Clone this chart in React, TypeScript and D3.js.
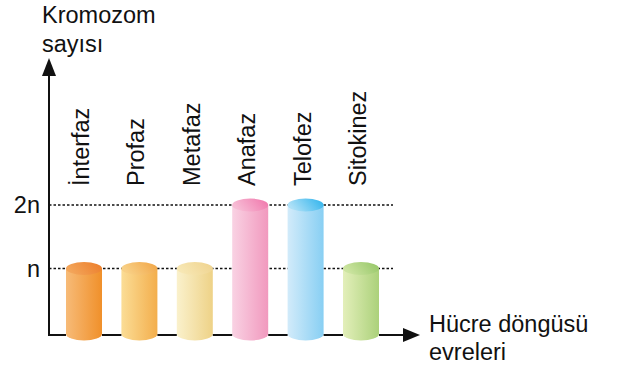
import React from "react";
import * as d3 from "d3";

const categories = ["İnterfaz", "Profaz", "Metafaz", "Anafaz", "Telofez", "Sitokinez"];
const values = [1, 1, 1, 2, 2, 1];
const tickValues = [1, 2];
const tickLabels = ["n", "2n"];
const bodyLeft = ["#f7bb78", "#fbdd96", "#faf1cc", "#f9d2e3", "#d2ebfa", "#e3efba"];
const bodyRight = ["#f0902a", "#f3ae4c", "#eed287", "#f199be", "#88cff3", "#abd17a"];
const topLeft = ["#f3a55a", "#f8d086", "#f7e7b4", "#f7bcd5", "#ade0f7", "#cce4a0"];
const topRight = ["#ec7c28", "#f1a444", "#efd28c", "#f074aa", "#2bb2ec", "#93c565"];

const W = 620;
const H = 367;
const axisX = 49;
const axisY = 335;

export default function App() {
  const x = d3.scalePoint<string>().domain(categories).range([84, 361]);
  const y = d3.scaleLinear().domain([0, 2]).range([332, 205]);
  const bw = 36;
  const ry = 6.5;
  const font = "'Liberation Sans', Arial, Helvetica, sans-serif";
  const fs = 23.5;

  return (
    <svg width={W} height={H} style={{ position: "absolute", left: 0, top: 0, background: "#fff" }}>
      <defs>
        {categories.map((c, i) => (
          <React.Fragment key={c}>
            <linearGradient id={`body${i}`} x1="0" x2="1" y1="0" y2="0">
              <stop offset="0%" stopColor={bodyLeft[i]} />
              <stop offset="100%" stopColor={bodyRight[i]} />
            </linearGradient>
            <linearGradient id={`top${i}`} x1="0" x2="1" y1="0.3" y2="0">
              <stop offset="0%" stopColor={topLeft[i]} />
              <stop offset="100%" stopColor={topRight[i]} />
            </linearGradient>
          </React.Fragment>
        ))}
      </defs>

      {/* dotted reference lines */}
      {tickValues.map((v) => (
        <line key={v} x1={axisX} x2={393} y1={y(v)} y2={y(v)} stroke="#111" strokeWidth={1.4} strokeDasharray="2.5,2" />
      ))}
      {tickValues.map((v, i) => (
        <text key={`t${v}`} x={40} y={y(v) + 8} textAnchor="end" fontFamily={font} fontSize={fs} fill="#111">
          {tickLabels[i]}
        </text>
      ))}

      {/* bars */}
      {categories.map((c, i) => {
        const cx = x(c) as number;
        const top = y(values[i]);
        const bottom = axisY - 1;
        return (
          <g key={c}>
            <path
              d={`M${cx - bw / 2},${top} L${cx - bw / 2},${bottom} A${bw / 2},${ry} 0 0 0 ${cx + bw / 2},${bottom} L${cx + bw / 2},${top} Z`}
              fill={`url(#body${i})`}
            />
            <ellipse cx={cx} cy={top} rx={bw / 2} ry={ry} fill={`url(#top${i})`} />
          </g>
        );
      })}

      {/* axes */}
      <line x1={axisX} x2={axisX} y1={axisY} y2={76} stroke="#111" strokeWidth={2} />
      <path d={`M${axisX - 7},76 L${axisX},58 L${axisX + 7},76 Z`} fill="#111" />
      <line x1={axisX - 1} x2={66} y1={axisY} y2={axisY} stroke="#111" strokeWidth={2} />
      {categories.slice(0, -1).map((c, i) => {
        const a = (x(c) as number) + bw / 2;
        const b = (x(categories[i + 1]) as number) - bw / 2;
        return <line key={`ax${i}`} x1={a} x2={b} y1={axisY} y2={axisY} stroke="#111" strokeWidth={2} />;
      })}
      <line x1={(x(categories[categories.length - 1]) as number) + bw / 2} x2={404} y1={axisY} y2={axisY} stroke="#111" strokeWidth={2} />
      <path d={`M403,${axisY - 7} L420,${axisY} L403,${axisY + 7} Z`} fill="#111" />

      {/* category labels */}
      {categories.map((c) => {
        const cx = (x(c) as number) + 5;
        return (
          <text key={`l${c}`} transform={`translate(${cx},186) rotate(-90)`} fontFamily={font} fontSize={fs} fill="#111">
            {c}
          </text>
        );
      })}

      {/* axis titles */}
      <text x={42} y={23} fontFamily={font} fontSize={fs} fill="#111">Kromozom</text>
      <text x={42} y={52} fontFamily={font} fontSize={fs} fill="#111">sayısı</text>
      <text x={429} y={332} fontFamily={font} fontSize={fs} fill="#111">Hücre döngüsü</text>
      <text x={429} y={360} fontFamily={font} fontSize={fs} fill="#111">evreleri</text>
    </svg>
  );
}
